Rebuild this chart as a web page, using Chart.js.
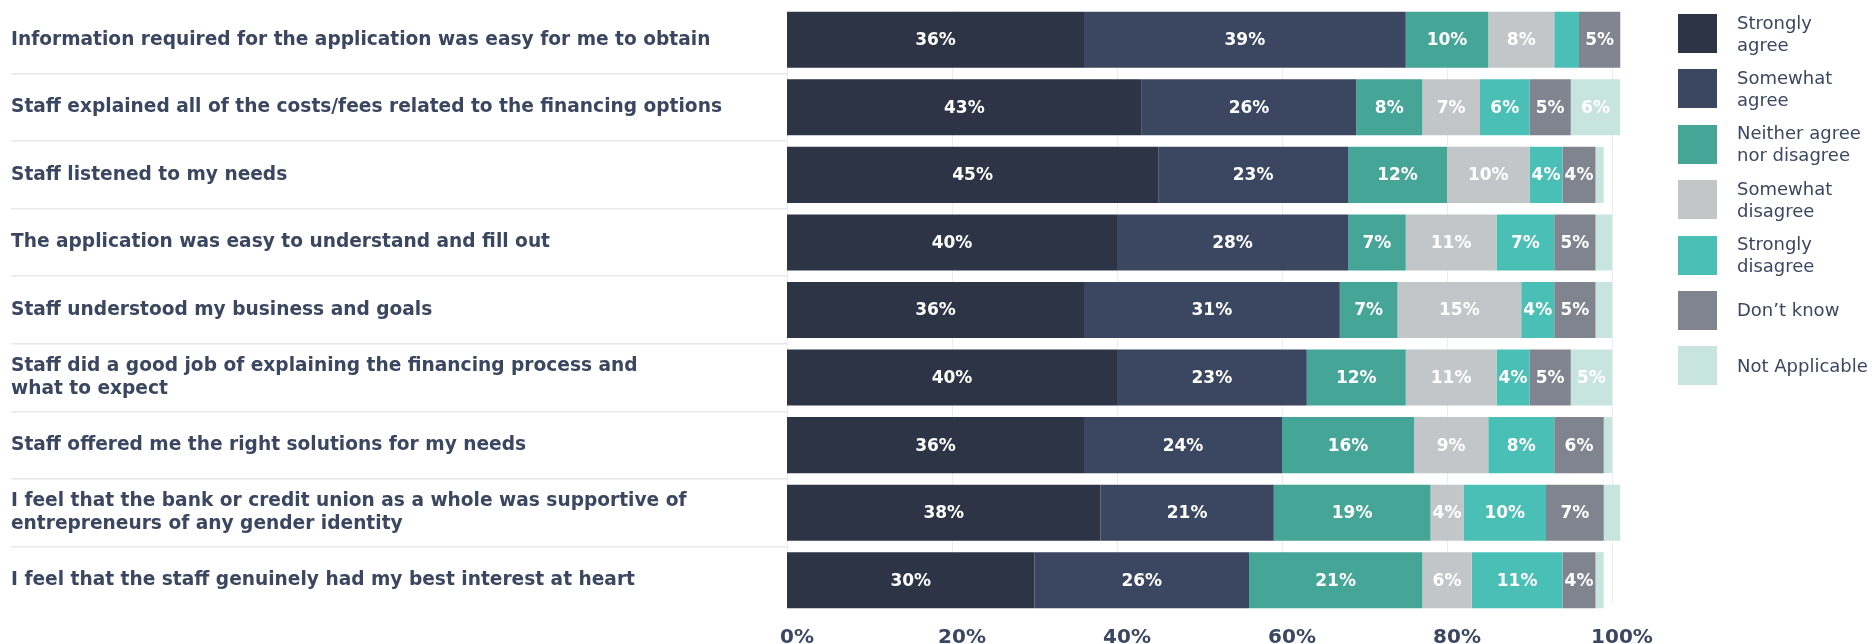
<!DOCTYPE html>
<html>
<head>
<meta charset="utf-8">
<script src="https://cdn.jsdelivr.net/npm/chart.js@4"></script>
<style>
  body { margin: 0; background: #fff; font-family: "DejaVu Sans", sans-serif; }
  #wrap { position: relative; width: 1872px; height: 644px; }
  #legend { position: absolute; left: 1678px; top: 14px; }
  .item { display: flex; align-items: center; height: 39px; margin-bottom: 16.4px; }
  .swatch { width: 39px; height: 39px; flex: none; }
  .txt { margin-left: 20px; font-size: 18px; line-height: 22px; color: #3b4660; white-space: pre; }
</style>
</head>
<body>
<div id="wrap">
  <canvas id="surveyChart" width="1872" height="644"></canvas>
  <div id="legend"></div>
</div>
<script>
const questions = [
    'Information required for the application was easy for me to obtain',
    'Staff explained all of the costs/fees related to the financing options',
    'Staff listened to my needs',
    'The application was easy to understand and fill out',
    'Staff understood my business and goals',
    ['Staff did a good job of explaining the financing process and', 'what to expect'],
    'Staff offered me the right solutions for my needs',
    ['I feel that the bank or credit union as a whole was supportive of', 'entrepreneurs of any gender identity'],
    'I feel that the staff genuinely had my best interest at heart'
];
const responses = ['Strongly agree', 'Somewhat agree', 'Neither agree nor disagree', 'Somewhat disagree', 'Strongly disagree', 'Don’t know', 'Not Applicable'];
const legendText = ['Strongly\nagree', 'Somewhat\nagree', 'Neither agree\nnor disagree', 'Somewhat\ndisagree', 'Strongly\ndisagree', 'Don’t know', 'Not Applicable'];
const colors = ['#2c3446', '#3b4660', '#45a597', '#c3c6c8', '#4abfb5', '#80848f', '#c8e4df'];

const stronglyAgree    = [36, 43, 45, 40, 36, 40, 36, 38, 30];
const somewhatAgree    = [39, 26, 23, 28, 31, 23, 24, 21, 26];
const neither          = [10, 8, 12, 7, 7, 12, 16, 19, 21];
const somewhatDisagree = [8, 7, 10, 11, 15, 11, 9, 4, 6];
const stronglyDisagree = [3, 6, 4, 7, 4, 4, 8, 10, 11];
const dontKnow         = [5, 5, 4, 5, 5, 5, 6, 7, 4];
const notApplicable    = [0, 6, 1, 2, 2, 5, 1, 2, 1];
const xTicks = [0, 20, 40, 60, 80, 100];

const series = [stronglyAgree, somewhatAgree, neither, somewhatDisagree, stronglyDisagree, dontKnow, notApplicable];

// legend on the right, built from the same names and colours
const legendDiv = document.getElementById('legend');
legendText.forEach((t, i) => {
    legendDiv.innerHTML += `<div class="item"><div class="swatch" style="background:${colors[i]}"></div><div class="txt">${t}</div></div>`;
});

// vertical lines at each x tick, only over the rows of bars
const columnLines = {
    id: 'columnLines',
    beforeDatasetsDraw(chart) {
        const {ctx, scales: {x}} = chart;
        const bars = chart.getDatasetMeta(0).data;
        const first = bars[0], last = bars[bars.length - 1];
        const top = first.y - first.height / 2;
        const bottom = last.y + last.height / 2 - 5;
        ctx.save();
        ctx.strokeStyle = '#ececec';
        ctx.lineWidth = 1;
        xTicks.forEach(v => {
            const px = Math.round(x.getPixelForValue(v)) + 0.5;
            ctx.beginPath();
            ctx.moveTo(px, top);
            ctx.lineTo(px, bottom);
            ctx.stroke();
        });
        ctx.restore();
    }
};

// percentage written in the middle of each segment (small ones left blank)
const valueLabels = {
    id: 'valueLabels',
    afterDatasetsDraw(chart) {
        const ctx = chart.ctx;
        ctx.save();
        ctx.font = 'bold 17px "DejaVu Sans"';
        ctx.fillStyle = '#fff';
        ctx.textAlign = 'center';
        ctx.textBaseline = 'middle';
        chart.data.datasets.forEach((ds, i) => {
            chart.getDatasetMeta(i).data.forEach((bar, j) => {
                const v = ds.data[j];
                if (v < 4) return;
                ctx.fillText(v + '%', (bar.x + bar.base) / 2, bar.y + 1);
            });
        });
        ctx.restore();
    }
};

const ctx = document.getElementById('surveyChart').getContext('2d');
const chart = new Chart(ctx, {
    type: 'bar',
    data: {
        labels: questions,
        datasets: series.map((d, i) => ({
            label: responses[i],
            data: d,
            backgroundColor: colors[i],
            borderWidth: 0,
            barPercentage: 0.83,
            categoryPercentage: 1,
            clip: false
        }))
    },
    options: {
        indexAxis: 'y',
        responsive: false,
        animation: false,
        layout: {padding: {left: 11, right: 260, top: 6, bottom: 0}},
        plugins: {legend: {display: false}, tooltip: {enabled: false}},
        scales: {
            x: {
                stacked: true,
                min: 0,
                max: 100,
                grid: {display: false, drawTicks: false},
                border: {display: false},
                afterBuildTicks: s => { s.ticks = xTicks.map(v => ({value: v})); },
                afterFit: s => { s.height = 30; },
                ticks: {
                    padding: 12,
                    labelOffset: 10,
                    autoSkip: false,
                    maxRotation: 0,
                    color: '#3b4660',
                    font: {family: 'DejaVu Sans', weight: 'bold', size: 20},
                    callback: v => v + '%'
                }
            },
            y: {
                stacked: true,
                grid: {
                    drawOnChartArea: false,
                    drawTicks: true,
                    tickLength: 776,
                    lineWidth: 1.5,
                    color: c => (c.type !== 'tick' || c.index === 0) ? 'rgba(0,0,0,0)' : '#e8e8e8'
                },
                border: {display: false},
                afterFit: s => { s.width = 776; s.paddingTop = 0; s.paddingBottom = 0; },
                ticks: {
                    crossAlign: 'far',
                    padding: 0,
                    color: '#3b4660',
                    font: {family: 'DejaVu Sans', weight: 'bold', size: 18.6, lineHeight: 1.21}
                }
            }
        }
    },
    plugins: [columnLines, valueLabels]
});
</script>
</body>
</html>
